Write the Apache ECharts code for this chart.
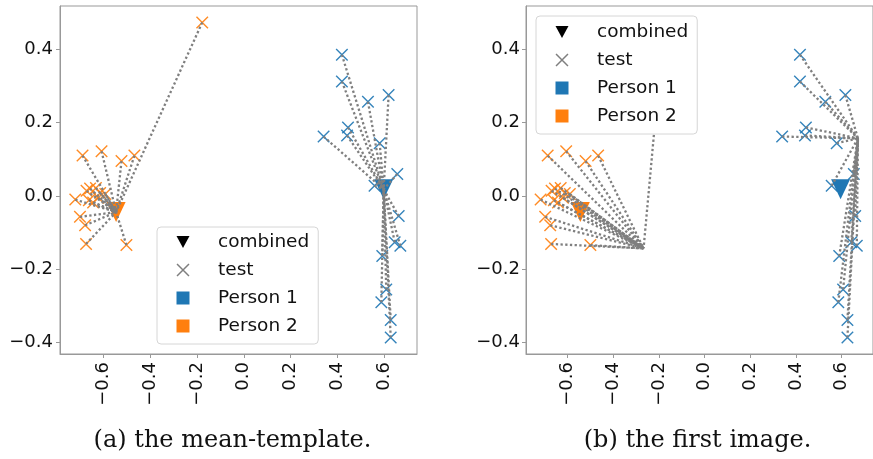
<!DOCTYPE html>
<html>
<head>
<meta charset="utf-8">
<script src="https://cdn.jsdelivr.net/npm/echarts@6/dist/echarts.min.js"></script>
<style>
html,body{margin:0;padding:0;background:#fff;}
#chart{width:873px;height:459px;}
</style>
</head>
<body>
<div id="chart"></div>
<script>
// ---- data ----
const person1X = [0.418, 0.418, 0.617, 0.529, 0.444, 0.440, 0.340, 0.579, 0.654, 0.557, 0.660, 0.643, 0.667, 0.590, 0.607, 0.586, 0.626, 0.626];
const person1Y = [0.385, 0.312, 0.275, 0.257, 0.187, 0.165, 0.162, 0.144, 0.060, 0.028, -0.055, -0.126, -0.136, -0.164, -0.255, -0.290, -0.338, -0.386];
const person2X = [-0.177, -0.687, -0.606, -0.521, -0.466, -0.718, -0.670, -0.655, -0.630, -0.612, -0.590, -0.660, -0.642, -0.620, -0.698, -0.676, -0.672, -0.500];
const person2Y = [0.473, 0.110, 0.122, 0.095, 0.110, -0.010, 0.014, 0.020, 0.022, 0.008, 0.005, -0.012, -0.018, -0.005, -0.057, -0.080, -0.131, -0.134];
const combinedP1 = [0.596, 0.018];
const combinedP2 = [-0.544, -0.044];
const firstImageP1 = [0.672, 0.157];
const firstImageP2 = [-0.267, -0.143];
const xTicks = [-0.6, -0.4, -0.2, 0.0, 0.2, 0.4, 0.6];
const yTicks = [-0.4, -0.2, 0.0, 0.2, 0.4];
const legendNames = ['combined', 'test', 'Person 1', 'Person 2'];
const captions = ['(a) the mean-template.', '(b) the first image.'];

// ---- styles ----
const BLUE = '#1f77b4', ORANGE = '#ff7f0e', GRAY = '#7f7f7f';
const FRAME = '#999999';
const XPATH = 'path://M0,0.8L0.8,0L10,9.2L9.2,10Z M9.2,0L10,0.8L0.8,10L0,9.2Z';
const TRI_DOWN = 'path://M0,0L12,0L6,11Z';
const fmt = v => (Math.abs(v) < 1e-9 ? '0.0' : v.toFixed(1)).replace('-', '\u2212');

const zip = (xs, ys) => xs.map((x, i) => [x, ys[i]]);
const p1 = zip(person1X, person1Y);
const p2 = zip(person2X, person2Y);

function linksTo(points, target) {
  return points.map(p => ({ coords: [p, target] }));
}

function xAxisFor(gi, min, max) {
  return {
    type: 'value', gridIndex: gi, min: min, max: max,
    splitLine: { show: false },
    axisLine: { show: true, onZero: false, lineStyle: { color: FRAME, width: 1 } },
    axisTick: { show: true, length: 4, customValues: xTicks, lineStyle: { color: FRAME } },
    axisLabel: { customValues: xTicks, rotate: 90, margin: 8, color: '#111', fontSize: 18,
                 fontFamily: 'DejaVu Sans', formatter: fmt }
  };
}
function yAxisFor(gi, margin) {
  return {
    type: 'value', gridIndex: gi, min: -0.431, max: 0.518,
    splitLine: { show: false },
    axisLine: { show: true, onZero: false, lineStyle: { color: FRAME, width: 1 } },
    axisTick: { show: true, length: 4, customValues: yTicks, lineStyle: { color: FRAME } },
    axisLabel: { customValues: yTicks, margin: margin, color: '#111', fontSize: 18,
                 fontFamily: 'DejaVu Sans', formatter: fmt }
  };
}

function panelSeries(i, target1, target2) {
  return [
    { type: 'scatter', xAxisIndex: i, yAxisIndex: i, data: p1, symbol: XPATH, symbolSize: 12.5,
      itemStyle: { color: BLUE, opacity: 0.9 }, z: 2, silent: true },
    { type: 'scatter', xAxisIndex: i, yAxisIndex: i, data: p2, symbol: XPATH, symbolSize: 12.5,
      itemStyle: { color: ORANGE, opacity: 0.9 }, z: 2, silent: true },
    { type: 'scatter', xAxisIndex: i, yAxisIndex: i, data: [combinedP1], symbol: 'triangle',
      symbolRotate: 180, symbolSize: [19, 20], itemStyle: { color: BLUE, opacity: 1 }, z: 3, silent: true },
    { type: 'scatter', xAxisIndex: i, yAxisIndex: i, data: [combinedP2], symbol: 'triangle',
      symbolRotate: 180, symbolSize: [19, 20], itemStyle: { color: ORANGE, opacity: 1 }, z: 3, silent: true },
    { type: 'lines', coordinateSystem: 'cartesian2d', xAxisIndex: i, yAxisIndex: i,
      data: linksTo(p1, target1).concat(linksTo(p2, target2)), z: 4, silent: true,
      lineStyle: { color: GRAY, width: 2.3, type: [2.3, 2.4], opacity: 1 } }
  ];
}

function legendFor(left, top, padTop) {
  return {
    left: left, top: top, orient: 'vertical', selectedMode: false, z: 20,
    itemWidth: 13, itemHeight: 13, itemGap: 8,
    padding: [padTop, 9, 8, 19.5],
    backgroundColor: '#ffffff', borderColor: '#d6d6d6', borderWidth: 1, borderRadius: 4,
    textStyle: { fontSize: 18.5, fontFamily: 'DejaVu Sans', color: '#111', lineHeight: 20,
                 padding: [0, 0, 0, 23.5] },
    data: [
      { name: legendNames[0], icon: TRI_DOWN, itemStyle: { color: '#000', opacity: 1 } },
      { name: legendNames[1], icon: XPATH, itemStyle: { color: GRAY, opacity: 1 } },
      { name: legendNames[2], icon: 'rect', itemStyle: { color: BLUE, opacity: 1 } },
      { name: legendNames[3], icon: 'rect', itemStyle: { color: ORANGE, opacity: 1 } }
    ]
  };
}

const dummy = legendNames.map(n => ({ name: n, type: 'scatter', xAxisIndex: 0, yAxisIndex: 0, data: [],
  itemStyle: { opacity: 1 } }));

const option = {
  animation: false,
  backgroundColor: '#ffffff',
  grid: [
    { left: 60, top: 6, width: 357, height: 348, show: true, borderColor: FRAME, borderWidth: 1, backgroundColor: 'transparent' },
    { left: 526, top: 6, width: 353, height: 348, show: true, borderColor: FRAME, borderWidth: 1, backgroundColor: 'transparent' }
  ],
  xAxis: [xAxisFor(0, -0.783, 0.738), xAxisFor(1, -0.782, 0.738)],
  yAxis: [yAxisFor(0, 7), yAxisFor(1, 6)],
  legend: [legendFor(157, 227, 5), legendFor(536, 16, 6)],
  series: panelSeries(0, combinedP1, combinedP2)
    .concat(panelSeries(1, firstImageP1, firstImageP2))
    .concat(dummy),
  graphic: [
    { type: 'text', x: 232.5, y: 441, z: 30, style: { text: captions[0], x: 0, y: 0, fill: '#111',
      font: '24px "DejaVu Serif"', textAlign: 'center', textVerticalAlign: 'middle' } },
    { type: 'text', x: 697.5, y: 441, z: 30, style: { text: captions[1], x: 0, y: 0, fill: '#111',
      font: '24px "DejaVu Serif"', textAlign: 'center', textVerticalAlign: 'middle' } }
  ]
};

const chart = echarts.init(document.getElementById('chart'), null, { renderer: 'canvas' });
chart.setOption(option);
</script>
</body>
</html>
